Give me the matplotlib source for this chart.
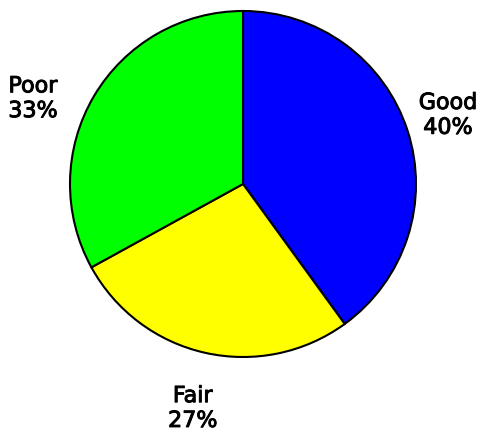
import numpy as np
import matplotlib.pyplot as plt
import matplotlib.patheffects as pe

labels = ["Good", "Fair", "Poor"]
shares = [40, 27, 33]
colors = ["#0000ff", "#ffff00", "#00ff00"]

# label placement (radius multiple, angle nudge in degrees) per slice
label_dist = [1.25, 1.33, 1.31]
label_nudge = [0.5, 0.0, 8.5]

W, H = 478, 433
fig = plt.figure(figsize=(W / 100, H / 100), dpi=100)
ax = fig.add_axes([0, 0, 1, 1])

cx, cy, r = 243, H - 184, 173
wedges, _ = ax.pie(
    shares,
    colors=colors,
    startangle=90,
    counterclock=False,
    center=(cx, cy),
    radius=r,
    wedgeprops={"edgecolor": "black", "linewidth": 1.5},
    frame=True,
)
ax.set_xlim(0, W)
ax.set_ylim(0, H)
ax.set_aspect("equal")
ax.axis("off")

for w, lab, val, d, nudge in zip(wedges, labels, shares, label_dist, label_nudge):
    mid = np.deg2rad((w.theta1 + w.theta2) / 2 + nudge)
    x = cx + d * r * np.cos(mid)
    y = cy + d * r * np.sin(mid)
    ax.text(x, y, f"{lab}\n{val}%", ha="center", va="center",
            fontsize=16, linespacing=1.3, family="DejaVu Sans",
            path_effects=[pe.withStroke(linewidth=0.7, foreground="black")])

fig.savefig("out.png", dpi=100)
